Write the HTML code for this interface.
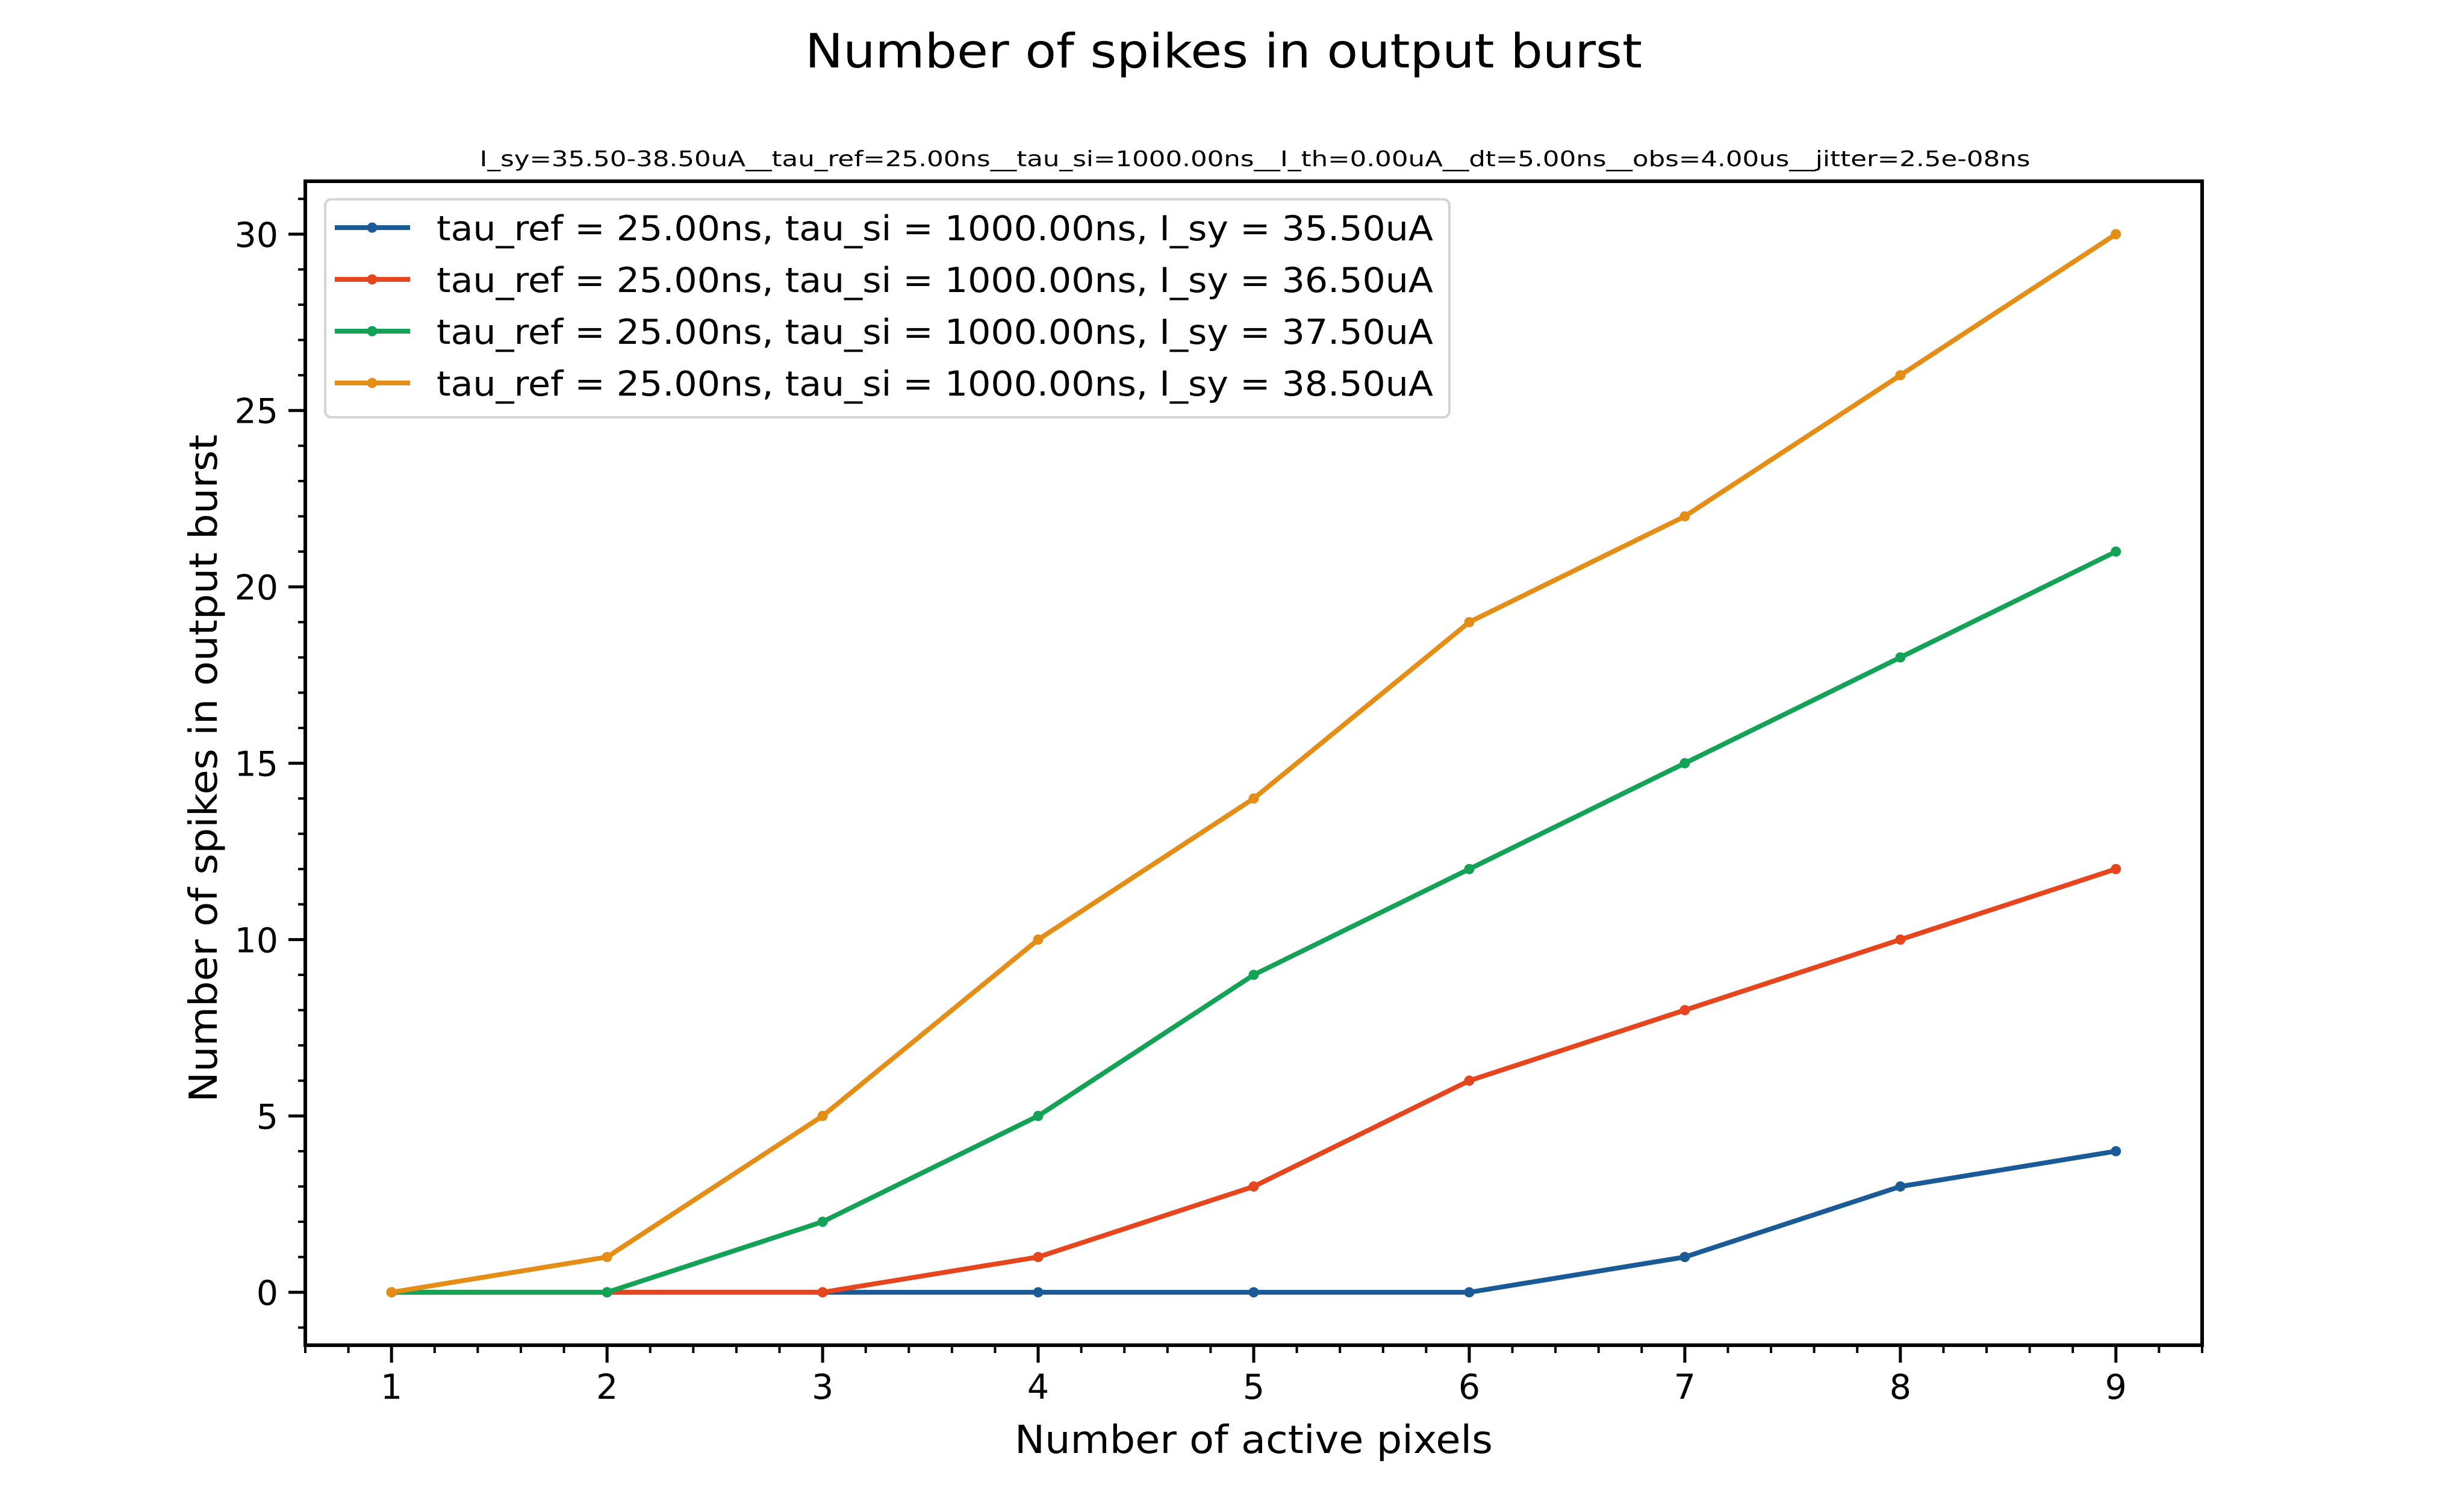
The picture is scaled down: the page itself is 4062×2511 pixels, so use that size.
<!DOCTYPE html>
<html><head><meta charset="utf-8"><style>
html,body{margin:0;padding:0;background:#fff;}
svg{display:block;font-family:"DejaVu Sans","Liberation Sans",sans-serif;}
</style></head><body>
<svg id="chart" width="4062" height="2511" viewBox="0 0 4062 2511" xmlns="http://www.w3.org/2000/svg">
<rect width="4062" height="2511" fill="#fff"/>
<text x="2032" y="112" font-size="78" text-anchor="middle" textLength="1390" lengthAdjust="spacingAndGlyphs">Number of spikes in output burst</text>
<text x="2084" y="276" font-size="36" text-anchor="middle" textLength="2575" lengthAdjust="spacingAndGlyphs">I_sy=35.50-38.50uA__tau_ref=25.00ns__tau_si=1000.00ns__I_th=0.00uA__dt=5.00ns__obs=4.00us__jitter=2.5e-08ns</text>
<g id="ticks"></g>
<g id="series"></g>
<rect x="507" y="301" width="3150" height="1933" fill="none" stroke="#000" stroke-width="6"/>
<g id="legend"></g>
<text x="2082" y="2413" font-size="64" text-anchor="middle" textLength="794" lengthAdjust="spacingAndGlyphs">Number of active pixels</text>
<text transform="translate(360,1276) rotate(-90)" font-size="64" text-anchor="middle" textLength="1109" lengthAdjust="spacingAndGlyphs">Number of spikes in output burst</text>
</svg>
<script>
const categories = [1,2,3,4,5,6,7,8,9];
const blueValues = [0,0,0,0,0,0,1,3,4];
const redValues = [0,0,0,1,3,6,8,10,12];
const greenValues = [0,0,2,5,9,12,15,18,21];
const orangeValues = [0,1,5,10,14,19,22,26,30];
const seriesLabels = [
  "tau_ref = 25.00ns, tau_si = 1000.00ns, I_sy = 35.50uA",
  "tau_ref = 25.00ns, tau_si = 1000.00ns, I_sy = 36.50uA",
  "tau_ref = 25.00ns, tau_si = 1000.00ns, I_sy = 37.50uA",
  "tau_ref = 25.00ns, tau_si = 1000.00ns, I_sy = 38.50uA"
];
const xTicks = [1,2,3,4,5,6,7,8,9];
const yTicks = [0,5,10,15,20,25,30];

const NS = "http://www.w3.org/2000/svg";
const L = 507, R = 3657, T = 301, B = 2234;
const xMin = 0.6, xMax = 9.4, yMin = -1.5, yMax = 31.5;
function xs(v){ return L + (v - xMin) / (xMax - xMin) * (R - L); }
function ys(v){ return B - (v - yMin) / (yMax - yMin) * (B - T); }
function mk(tag, attrs, parent){
  const e = document.createElementNS(NS, tag);
  for (const k in attrs) e.setAttribute(k, attrs[k]);
  parent.appendChild(e);
  return e;
}
const colors = ["#1a5a96","#e5461e","#13a256","#e58e17"];
const allSeries = [blueValues, redValues, greenValues, orangeValues];
const names = ["blue","red","green","orange"];

const tg = document.getElementById("ticks");
for (let v = 0.6; v <= 9.41; v += 0.2) {
  const x = xs(v);
  const t = mk("line", {x1:x, x2:x, y1:B, y2:B+13, stroke:"#000", "stroke-width":4}, tg);
  
  
}
for (let v = -1; v <= 31; v += 1) {
  const y = ys(v);
  const t = mk("line", {x1:L-12, x2:L, y1:y, y2:y, stroke:"#000", "stroke-width":4}, tg);
  
  
}
xTicks.forEach(v => {
  const x = xs(v);
  const t = mk("line", {x1:x, x2:x, y1:B, y2:B+29, stroke:"#000", "stroke-width":5}, tg);
  
  
  const lb = mk("text", {x:x, y:2323, "font-size":57, "text-anchor":"middle"}, tg);
  lb.textContent = v;
  
  
});
yTicks.forEach(v => {
  const y = ys(v);
  const t = mk("line", {x1:L-28, x2:L, y1:y, y2:y, stroke:"#000", "stroke-width":5}, tg);
  
  
  const lb = mk("text", {x:462, y:y+21, "font-size":57, "text-anchor":"end"}, tg);
  lb.textContent = v;
  
  
});

const sg = document.getElementById("series");
allSeries.forEach((vals, i) => {
  const pts = vals.map((v, j) => xs(categories[j]) + "," + ys(v)).join(" ");
  const pl = mk("polyline", {points:pts, fill:"none", stroke:colors[i], "stroke-width":8, "stroke-linejoin":"round"}, sg);
  
  
  vals.forEach((v, j) => {
    const c = mk("circle", {cx:xs(categories[j]), cy:ys(v), r:8.5, fill:colors[i]}, sg);
    
    
  });
});

const lg = document.getElementById("legend");
const box = mk("rect", {x:540, y:331, width:1867, height:362, rx:10, fill:"#fff", "fill-opacity":0.85, stroke:"#d4d4d4", "stroke-width":4}, lg);


seriesLabels.forEach((s, i) => {
  const y = 378 + i * 86;
  const ln = mk("line", {x1:556, x2:681, y1:y, y2:y, stroke:colors[i], "stroke-width":8}, lg);
  
  
  const c = mk("circle", {cx:618, cy:y, r:8.5, fill:colors[i]}, lg);
  
  
  const t = mk("text", {x:725, y:y+21, "font-size":57, textLength:1655, lengthAdjust:"spacingAndGlyphs"}, lg);
  t.textContent = s;
  
  
});
</script>
</body></html>
